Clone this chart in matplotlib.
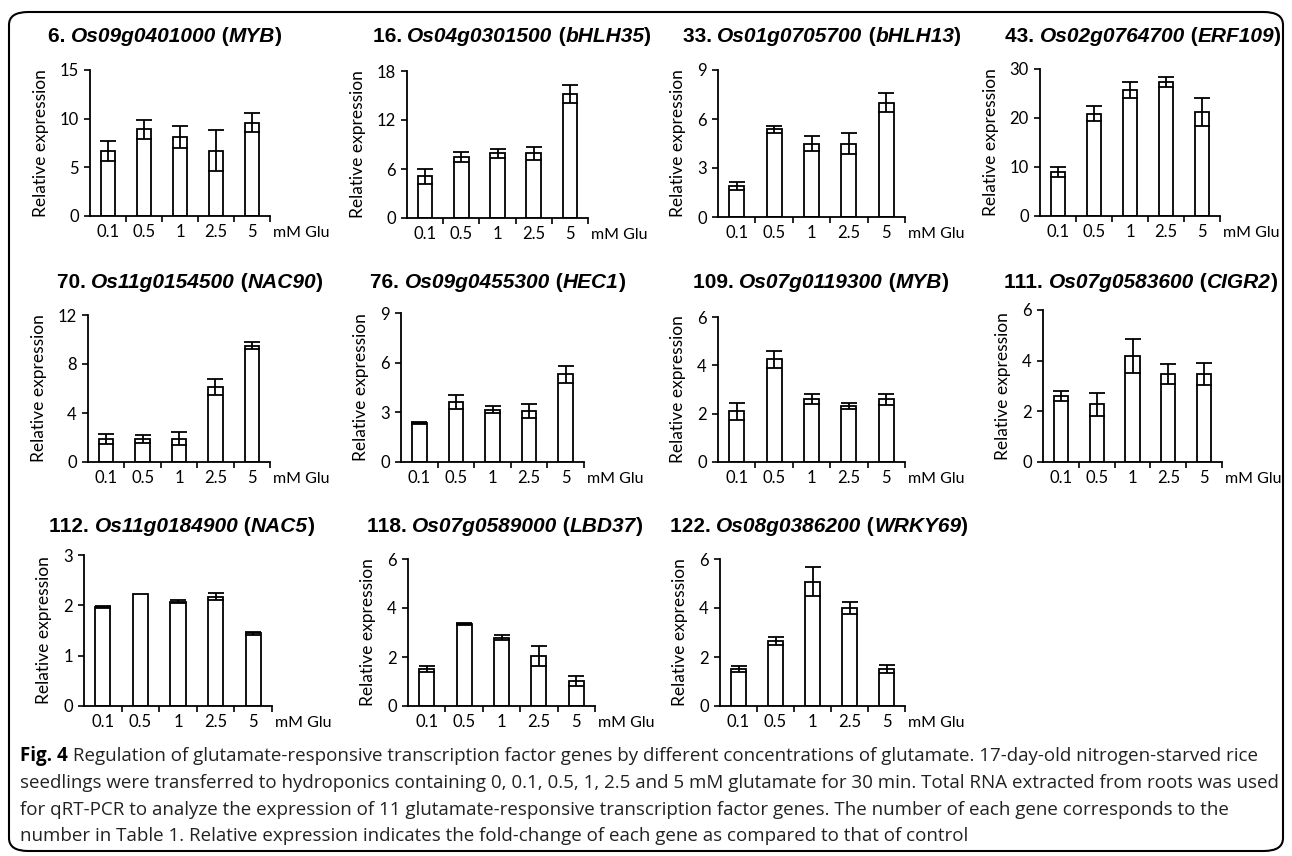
import matplotlib

matplotlib.use("Agg")
import matplotlib.pyplot as plt
import numpy as np
from matplotlib.patches import FancyBboxPatch
from matplotlib.transforms import offset_copy

W, H = 1292, 856

conc = ["0.1", "0.5", "1", "2.5", "5"]

# gene number, locus, gene name
numbers = ["6.", "16.", "33.", "43.", "70.", "76.", "109.", "111.", "112.", "118.", "122."]
loci = ["Os09g0401000", "Os04g0301500", "Os01g0705700", "Os02g0764700",
        "Os11g0154500", "Os09g0455300", "Os07g0119300", "Os07g0583600",
        "Os11g0184900", "Os07g0589000", "Os08g0386200"]
names = ["MYB", "bHLH35", "bHLH13", "ERF109", "NAC90", "HEC1", "MYB", "CIGR2",
         "NAC5", "LBD37", "WRKY69"]

means = [
    [6.7, 8.9, 8.1, 6.7, 9.6],
    [5.1, 7.5, 7.9, 7.9, 15.2],
    [1.9, 5.37, 4.5, 4.5, 7.0],
    [9.0, 20.9, 25.7, 27.4, 21.2],
    [1.9, 1.9, 1.9, 6.1, 9.5],
    [2.37, 3.6, 3.17, 3.07, 5.3],
    [2.1, 4.25, 2.6, 2.32, 2.6],
    [2.6, 2.28, 4.18, 3.46, 3.46],
    [1.97, 2.23, 2.07, 2.17, 1.45],
    [1.5, 3.34, 2.78, 2.05, 1.02],
    [1.5, 2.65, 5.07, 3.99, 1.5],
]
errs = [
    [1.0, 1.0, 1.1, 2.1, 1.0],
    [0.9, 0.6, 0.6, 0.8, 1.1],
    [0.22, 0.2, 0.47, 0.67, 0.57],
    [1.1, 1.5, 1.6, 1.0, 2.8],
    [0.4, 0.33, 0.55, 0.65, 0.3],
    [0.07, 0.42, 0.22, 0.43, 0.5],
    [0.35, 0.35, 0.2, 0.14, 0.23],
    [0.2, 0.45, 0.66, 0.4, 0.43],
    [0.02, 0.0, 0.03, 0.07, 0.03],
    [0.12, 0.05, 0.1, 0.4, 0.2],
    [0.13, 0.17, 0.6, 0.25, 0.17],
]
yticks = [[0, 5, 10, 15], [0, 6, 12, 18], [0, 3, 6, 9], [0, 10, 20, 30],
          [0, 4, 8, 12], [0, 3, 6, 9], [0, 2, 4, 6], [0, 2, 4, 6],
          [0, 1, 2, 3], [0, 2, 4, 6], [0, 2, 4, 6]]

caption_lines = [
    " Regulation of glutamate-responsive transcription factor genes by different concentrations of glutamate. 17-day-old nitrogen-starved rice",
    "seedlings were transferred to hydroponics containing 0, 0.1, 0.5, 1, 2.5 and 5 mM glutamate for 30 min. Total RNA extracted from roots was used",
    "for qRT-PCR to analyze the expression of 11 glutamate-responsive transcription factor genes. The number of each gene corresponds to the",
    "number in Table 1. Relative expression indicates the fold-change of each gene as compared to that of control",
]

# panel boxes in pixels: left, right, y of top tick, y of zero
boxes = [
    (90, 270, 70, 216), (407, 588, 71, 218), (718, 905, 70, 217), (1040, 1220, 69, 216),
    (88, 270, 315, 462), (401, 584, 313, 462), (718, 905, 317, 462), (1043, 1222, 310, 462),
    (84, 272, 555, 706), (408, 595, 559, 706), (720, 905, 559, 706),
]
# title centres in pixels
title_pos = [(165, 37), (512, 37), (822, 37), (1143, 37),
             (190, 283), (498, 283), (821, 283), (1141, 283),
             (182, 527), (505, 527), (819, 527)]

TICK_FONT = "Lato"
TITLE_FONT = "Liberation Sans"
CAP_FONT = "Open Sans"

fig = plt.figure(figsize=(W / 100, H / 100), dpi=100)
renderer = fig.canvas.get_renderer()


def rich_text(xc, yc, parts, size):
    # draw pieces left to right, then centre the whole line on xc
    x = xc / W
    y = 1 - yc / H
    items = []
    total = 0
    for s, style in parts:
        t = fig.text(x, y, s, fontsize=size, fontweight="bold", fontstyle=style,
                     family=TITLE_FONT, ha="left", va="center")
        w = t.get_window_extent(renderer).width
        items.append((t, total))
        total += w
    for t, off in items:
        t.set_transform(offset_copy(fig.transFigure, fig=fig, x=off - total / 2, y=0, units="dots"))


for i in range(len(means)):
    left, right, top, zero = boxes[i]
    ax = fig.add_axes([left / W, 1 - zero / H, (right - left) / W, (zero - top) / H])
    x = np.arange(len(conc))
    m = np.array(means[i])
    e = np.array(errs[i])
    ax.bar(x, m, width=0.4, color="white", edgecolor="black", linewidth=1.3, zorder=2)
    keep = e > 0
    ax.errorbar(x[keep], m[keep], yerr=e[keep], fmt="none", ecolor="black",
                elinewidth=1.3, capsize=6, capthick=1.3, zorder=3)
    ax.set_xlim(-0.5, len(conc) - 0.5)
    ax.set_ylim(0, yticks[i][-1])
    ax.set_yticks(yticks[i])
    ax.set_xticks(x)
    ax.set_xticklabels(conc)
    ax.set_xticks(list(x[:-1] + 0.5) + [len(conc) - 0.5], minor=True)
    ax.tick_params(axis="x", which="major", length=0, pad=6)
    ax.tick_params(axis="x", which="minor", length=4, width=1.2, direction="out")
    ax.tick_params(axis="y", length=4, width=1.2, direction="out", pad=4)
    for lab in ax.get_xticklabels() + ax.get_yticklabels():
        lab.set_family(TICK_FONT)
        lab.set_fontsize(12)
    for side in ("top", "right"):
        ax.spines[side].set_visible(False)
    for side in ("left", "bottom"):
        ax.spines[side].set_linewidth(1.3)
    ax.set_ylabel("Relative expression", family=TICK_FONT, fontsize=12.5, labelpad=8)
    ax.annotate("mM Glu", xy=(1, 0), xycoords="axes fraction", xytext=(2, -12.5),
                textcoords="offset points", ha="left", va="center", family=TICK_FONT,
                fontsize=11.5)
    ax.patch.set_visible(False)
    xc, yc = title_pos[i]
    rich_text(xc, yc, [(numbers[i] + " ", "normal"), (loci[i], "italic"), (" (", "normal"),
                       (names[i], "italic"), (")", "normal")], 15)

# caption
cap_y = [756, 783, 810, 836]
t0 = fig.text(20 / W, 1 - cap_y[0] / H, "Fig. 4", family=CAP_FONT, fontweight="bold",
              fontsize=13.5, ha="left", va="center")
w0 = t0.get_window_extent(renderer).width
for k, line in enumerate(caption_lines):
    xo = 20 + (w0 if k == 0 else 0)
    fig.text(xo / W, 1 - cap_y[k] / H, line, family=CAP_FONT, fontsize=13.5,
             ha="left", va="center", color="#222222")

# rounded frame
frame = FancyBboxPatch((9 / W, 5 / H), (W - 18) / W, (H - 17) / H,
                       boxstyle="round,pad=0,rounding_size=0.015",
                       transform=fig.transFigure, fill=False, edgecolor="black",
                       linewidth=1.5)
fig.patches.append(frame)

fig.savefig("out.png", dpi=100)
